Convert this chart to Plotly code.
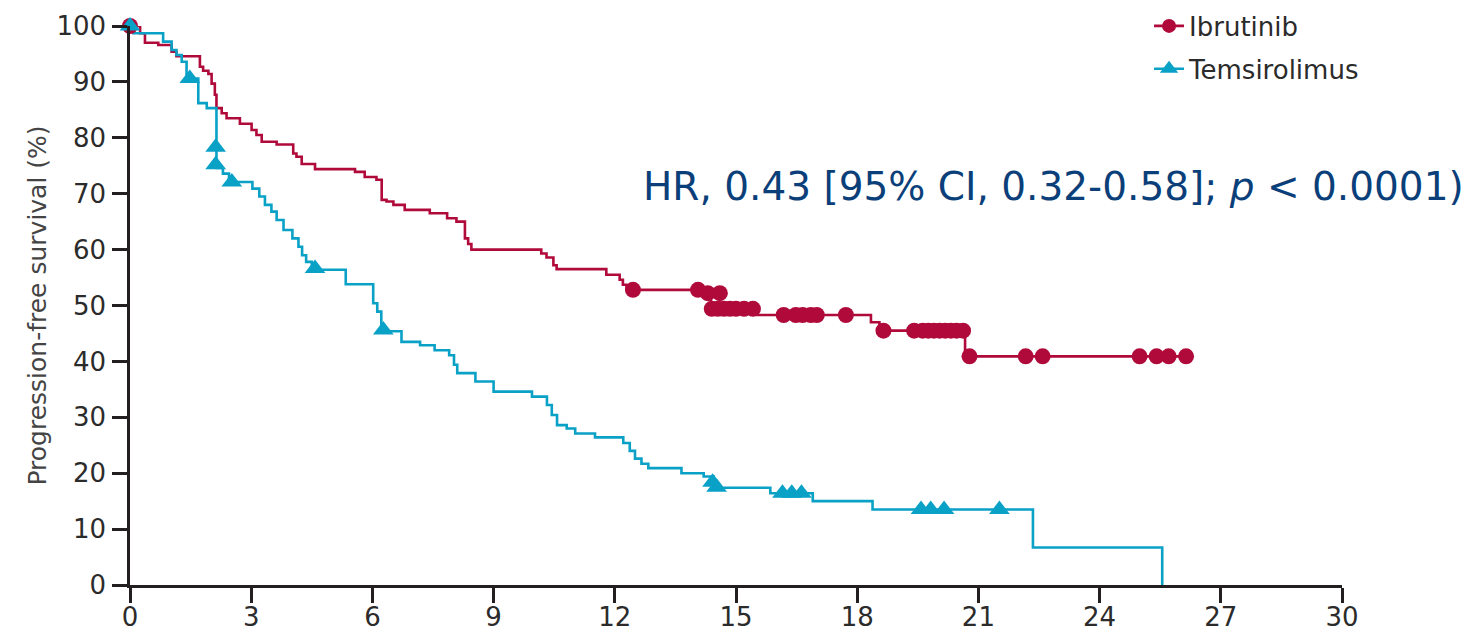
import plotly.graph_objects as go

# ---------------- data ----------------
# Ibrutinib Kaplan-Meier steps (time in months, survival %)
ibr_time = [0, 0.25, 0.37, 0.70, 1.03, 1.15, 1.73, 1.81, 1.94, 2.02, 2.10, 2.14, 2.27, 2.39,
            2.72, 3.01, 3.13, 3.26, 3.63, 4.04, 4.12, 4.25, 4.58, 5.57, 5.81, 6.10, 6.23,
            6.35, 6.52, 6.80, 7.42, 7.85, 8.08, 8.29, 8.37, 8.45, 10.18, 10.31, 10.48,
            10.56, 11.79, 12.12, 12.20, 12.29, 14.20, 14.38, 15.53, 18.34, 18.55, 20.67,
            26.14]
ibr_surv = [100, 98.7, 97.0, 96.6, 95.4, 94.6, 92.7, 92.0, 91.4, 89.7, 87.7, 85.3, 84.4, 83.5,
            82.5, 81.4, 80.5, 79.3, 78.8, 77.2, 76.6, 75.3, 74.4, 73.9, 73.0, 72.5, 68.9,
            68.6, 68.0, 67.1, 66.5, 65.6, 65.0, 62.0, 61.0, 60.0, 59.3, 58.6, 57.2,
            56.5, 55.5, 54.6, 53.7, 52.8, 52.2, 49.4, 48.3, 47.0, 45.5, 40.9,
            40.9]
# Ibrutinib censor marks
ibr_cens_t = [0, 12.45, 14.06, 14.30, 14.60, 14.40, 14.55, 14.70, 14.85, 15.00, 15.20, 15.42,
              16.18, 16.48, 16.65, 16.85, 17.00, 17.72, 18.65, 19.41, 19.62, 19.76, 19.90,
              20.04, 20.18, 20.32, 20.46, 20.62, 20.78, 22.17, 22.59, 24.99, 25.41, 25.71,
              26.14]
ibr_cens_s = [100, 52.8, 52.8, 52.2, 52.2, 49.4, 49.4, 49.4, 49.4, 49.4, 49.4, 49.4,
              48.3, 48.3, 48.3, 48.3, 48.3, 48.3, 45.5, 45.5, 45.5, 45.5, 45.5,
              45.5, 45.5, 45.5, 45.5, 45.5, 40.9, 40.9, 40.9, 40.9, 40.9, 40.9,
              40.9]

# Temsirolimus Kaplan-Meier steps
tem_time = [0, 0.08, 0.82, 1.03, 1.15, 1.28, 1.40, 1.69, 1.90, 2.14, 2.30, 2.45, 3.03, 3.20,
            3.34, 3.50, 3.63, 3.80, 4.02, 4.17, 4.26, 4.36, 4.50, 5.34, 6.02, 6.12, 6.22,
            6.72, 7.18, 7.54, 7.90, 8.02, 8.10, 8.55, 9.00, 9.95, 10.32, 10.44, 10.57,
            10.81, 11.02, 11.51, 12.21, 12.37, 12.50, 12.66, 12.83, 13.65, 14.20, 14.45,
            15.85, 16.90, 18.38, 22.35, 25.55]
tem_surv = [100, 98.7, 97.2, 95.7, 94.8, 93.6, 90.6, 86.2, 85.3, 74.6, 73.6, 72.1, 70.9, 69.5,
            68.0, 66.8, 65.3, 63.5, 62.0, 60.5, 59.0, 57.8, 56.4, 53.8, 50.4, 48.9, 45.4,
            43.5, 42.9, 42.0, 41.1, 39.4, 37.9, 36.4, 34.6, 33.7, 32.2, 30.4, 28.6,
            28.0, 27.1, 26.4, 25.4, 24.0, 22.6, 21.7, 20.9, 20.0, 19.4, 17.4,
            16.4, 15.0, 13.5, 6.7, 0]
# Temsirolimus censor marks
tem_cens_t = [0, 1.48, 2.12, 2.12, 2.52, 4.58, 6.27, 14.42, 14.52, 16.15, 16.38, 16.62,
              19.58, 19.82, 20.15, 21.52]
tem_cens_s = [100, 90.6, 78.3, 75.2, 72.1, 56.6, 45.6, 18.4, 17.5, 16.4, 16.4, 16.4,
              13.5, 13.5, 13.5, 13.5]

x_ticks = [0, 3, 6, 9, 12, 15, 18, 21, 24, 27, 30]
y_ticks = [0, 10, 20, 30, 40, 50, 60, 70, 80, 90, 100]

RED = "#b00a3b"
BLUE = "#0aa1c7"
AXIS = "#231f20"
TXT = "#2b2b2b"

fig = go.Figure()

# step curves
fig.add_trace(go.Scatter(x=ibr_time, y=ibr_surv, mode="lines", line_shape="hv",
                         line=dict(color=RED, width=2.6), showlegend=False,
                         cliponaxis=False, hoverinfo="skip"))
fig.add_trace(go.Scatter(x=tem_time, y=tem_surv, mode="lines", line_shape="hv",
                         line=dict(color=BLUE, width=2.6), showlegend=False,
                         cliponaxis=False, hoverinfo="skip"))
# censor marks
fig.add_trace(go.Scatter(x=ibr_cens_t, y=ibr_cens_s, mode="markers",
                         marker=dict(symbol="circle", size=16, color=RED, line=dict(width=0)),
                         showlegend=False, cliponaxis=False))
fig.add_trace(go.Scatter(x=tem_cens_t, y=tem_cens_s, mode="markers",
                         marker=dict(symbol="triangle-up", size=18, color=BLUE, line=dict(width=0)),
                         showlegend=False, cliponaxis=False))
# legend entries
fig.add_trace(go.Scatter(x=[None], y=[None], mode="lines+markers", name="Ibrutinib",
                         line=dict(color=RED, width=2.6), legendgroup="a",
                         marker=dict(symbol="circle", size=14, color=RED)))
fig.add_trace(go.Scatter(x=[None], y=[None], mode="lines+markers", name="Temsirolimus",
                         line=dict(color=BLUE, width=2.6), legendgroup="b",
                         marker=dict(symbol="triangle-up", size=16, color=BLUE)))

fig.add_annotation(text="HR, 0.43 [95% CI, 0.32-0.58]; <i>p</i> < 0.0001)",
                   xref="paper", yref="paper", x=0.4216, y=0.712,
                   xanchor="left", yanchor="middle", showarrow=False,
                   font=dict(family="DejaVu Sans", size=39, color="#0b3f7a"))

# the page body adds an 8 px offset, so the figure is sized to fit the window
fig.update_layout(
    width=1461, height=626,
    margin=dict(l=122, r=127, t=18, b=49, autoexpand=False),
    plot_bgcolor="white", paper_bgcolor="white",
    font=dict(family="DejaVu Sans", color=TXT),
    legend=dict(x=0.8408, y=1.042, xanchor="left", yanchor="top",
                font=dict(size=26, color=TXT), bgcolor="rgba(0,0,0,0)",
                traceorder="grouped", tracegroupgap=6),
    showlegend=True,
)
fig.update_xaxes(range=[0, 30], tickvals=x_ticks, ticktext=[str(v) for v in x_ticks],
                 automargin=False,
                 showgrid=False, zeroline=False, showline=True, linecolor=AXIS, linewidth=2.5,
                 ticks="outside", ticklen=15, tickwidth=2.5, tickcolor=AXIS,
                 ticklabelstandoff=-8,
                 tickfont=dict(size=26, color=TXT))
fig.update_yaxes(range=[0, 100], tickvals=y_ticks, ticktext=[str(v) for v in y_ticks],
                 automargin=False,
                 showgrid=False, zeroline=False, showline=True, linecolor=AXIS, linewidth=2.5,
                 ticks="outside", ticklen=15, tickwidth=2.5, tickcolor=AXIS,
                 ticklabelstandoff=1,
                 tickfont=dict(size=26, color=TXT),
                 title=dict(text="Progression-free survival (%)", standoff=3,
                            font=dict(size=25, color="#444444")))

fig.write_html("out.html")
